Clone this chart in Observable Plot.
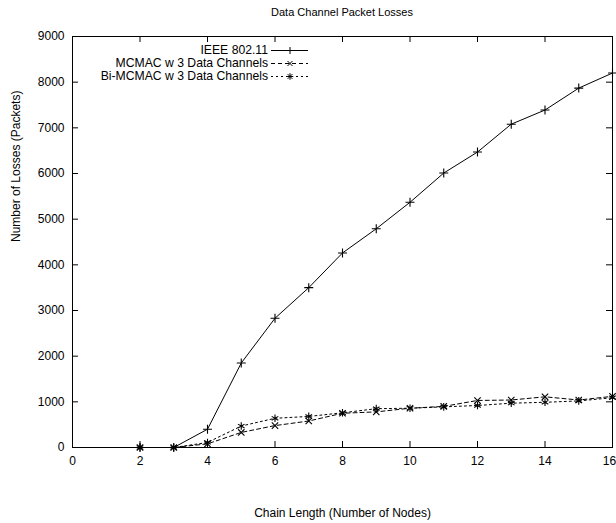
<!DOCTYPE html>
<html>
<head>
<meta charset="utf-8">
<script src="https://cdn.jsdelivr.net/npm/d3@7"></script>
<script src="https://cdn.jsdelivr.net/npm/@observablehq/plot@0.6"></script>
<style>
  body { margin: 0; background: #fff; font-family: "Liberation Sans", Arial, sans-serif; }
  #wrap { position: relative; width: 616px; height: 523px; }
  #title { height: 24px; line-height: 24px; font-size: 11px; text-align: center; padding-left: 72px; padding-right: 4px; box-sizing: border-box; width: 616px; }
  .leg { position: absolute; font-size: 12.2px; white-space: nowrap; line-height: 14px; }
  .leg span { position: absolute; right: 0; top: 0; }
</style>
</head>
<body>
<div id="wrap">
  <div id="title"></div>
  <div id="chart"></div>
  <div id="legend"></div>
</div>
<script>
const title = "Data Channel Packet Losses";
const xLabel = "Chain Length (Number of Nodes)";
const yLabel = "Number of Losses (Packets)";
const seriesNames = ["IEEE 802.11", "MCMAC w 3 Data Channels", "Bi-MCMAC w 3 Data Channels"];
const chainLength = [2, 3, 4, 5, 6, 7, 8, 9, 10, 11, 12, 13, 14, 15, 16];
const ieee = [0, 0, 400, 1850, 2830, 3500, 4260, 4790, 5370, 6010, 6470, 7080, 7390, 7870, 8200];
const mcmac = [0, 0, 80, 330, 480, 580, 750, 780, 860, 900, 1030, 1040, 1110, 1040, 1120];
const bimcmac = [0, 0, 110, 470, 640, 680, 760, 850, 860, 890, 920, 970, 990, 1020, 1090];
const xTicks = [0, 2, 4, 6, 8, 10, 12, 14, 16];
const yTicks = [0, 1000, 2000, 3000, 4000, 5000, 6000, 7000, 8000, 9000];

const symbols = ["plus", "times", "asterisk"];
const symR = [3, 3, 3.6];
const dashes = [null, "4,3", "2,3"];
const values = [ieee, mcmac, bimcmac];
const data = [];
values.forEach((vals, s) => vals.forEach((v, i) => data.push({series: seriesNames[s], x: chainLength[i], y: v, s})));

document.getElementById("title").textContent = title;

const W = 616, H = 499, mL = 72, mR = 4, mT = 12, mB = 76;
const iW = W - mL - mR, iH = H - mT - mB, tk = 6;

const marks = [
  Plot.frame({stroke: "black", strokeWidth: 1}),
  Plot.tickX(xTicks, {x: d => d, insetTop: iH - tk, stroke: "black"}),
  Plot.tickX(xTicks, {x: d => d, insetBottom: iH - tk, stroke: "black"}),
  Plot.tickY(yTicks, {y: d => d, insetRight: iW - tk, stroke: "black"}),
  Plot.tickY(yTicks, {y: d => d, insetLeft: iW - tk, stroke: "black"}),
  Plot.axisX(xTicks.slice(0, -1), {tickSize: 0, tickPadding: 9, label: null, fontSize: 12}),
  Plot.axisX(xTicks.slice(-1), {tickSize: 0, tickPadding: 9, label: null, fontSize: 12, dx: -3}),
  Plot.axisY(yTicks, {tickSize: 0, tickPadding: 8, label: null, fontSize: 12, tickFormat: d3.format("d")}),
  Plot.text([xLabel], {frameAnchor: "bottom", dy: 69, fontSize: 12, text: d => d}),
  Plot.text([yLabel], {frameAnchor: "left", dx: -56, rotate: -90, fontSize: 12, text: d => d})
];
values.forEach((vals, s) => {
  const d = data.filter(p => p.s === s);
  marks.push(Plot.line(d, {x: "x", y: "y", stroke: "black", strokeWidth: 1, strokeDasharray: dashes[s]}));
  marks.push(Plot.dot(d, {x: "x", y: "y", symbol: symbols[s], r: symR[s], stroke: "black", strokeWidth: 1.1}));
});

const chart = Plot.plot({
  width: W, height: H,
  marginLeft: mL, marginRight: mR, marginTop: mT, marginBottom: mB,
  x: {domain: [0, 16]},
  y: {domain: [0, 9000]},
  style: {fontFamily: "Liberation Sans, Arial, sans-serif", fontSize: "12px", color: "black", background: "white"},
  marks
});
document.getElementById("chart").appendChild(chart);

// legend (top-left inside the frame, gnuplot style)
const leg = document.getElementById("legend");
const legRows = [50, 63, 76];
const symPaths = {
  plus: "M-3.5,0H3.5M0,-3.5V3.5",
  times: "M-2.5,-2.5L2.5,2.5M-2.5,2.5L2.5,-2.5",
  asterisk: "M-3.3,0H3.3M0,-3.3V3.3M-2.4,-2.4L2.4,2.4M-2.4,2.4L2.4,-2.4"
};
seriesNames.forEach((name, s) => {
  const row = document.createElement("div");
  row.className = "leg";
  row.style.left = "0px";
  row.style.width = "268px";
  row.style.top = (legRows[s] - 7) + "px";
  row.style.height = "14px";
  const sp = document.createElement("span");
  sp.textContent = name;
  row.appendChild(sp);
  leg.appendChild(row);
  const svg = d3.create("svg").attr("width", 40).attr("height", 14)
    .style("position", "absolute").style("left", "270px").style("top", (legRows[s] - 7) + "px");
  svg.append("line").attr("x1", 1).attr("x2", 38).attr("y1", 7.5).attr("y2", 7.5)
    .attr("stroke", "black").attr("stroke-dasharray", dashes[s]);
  svg.append("path").attr("d", symPaths[symbols[s]]).attr("transform", "translate(20,7.5)")
    .attr("stroke", "black").attr("fill", "none");
  leg.appendChild(svg.node());
});
</script>
</body>
</html>
